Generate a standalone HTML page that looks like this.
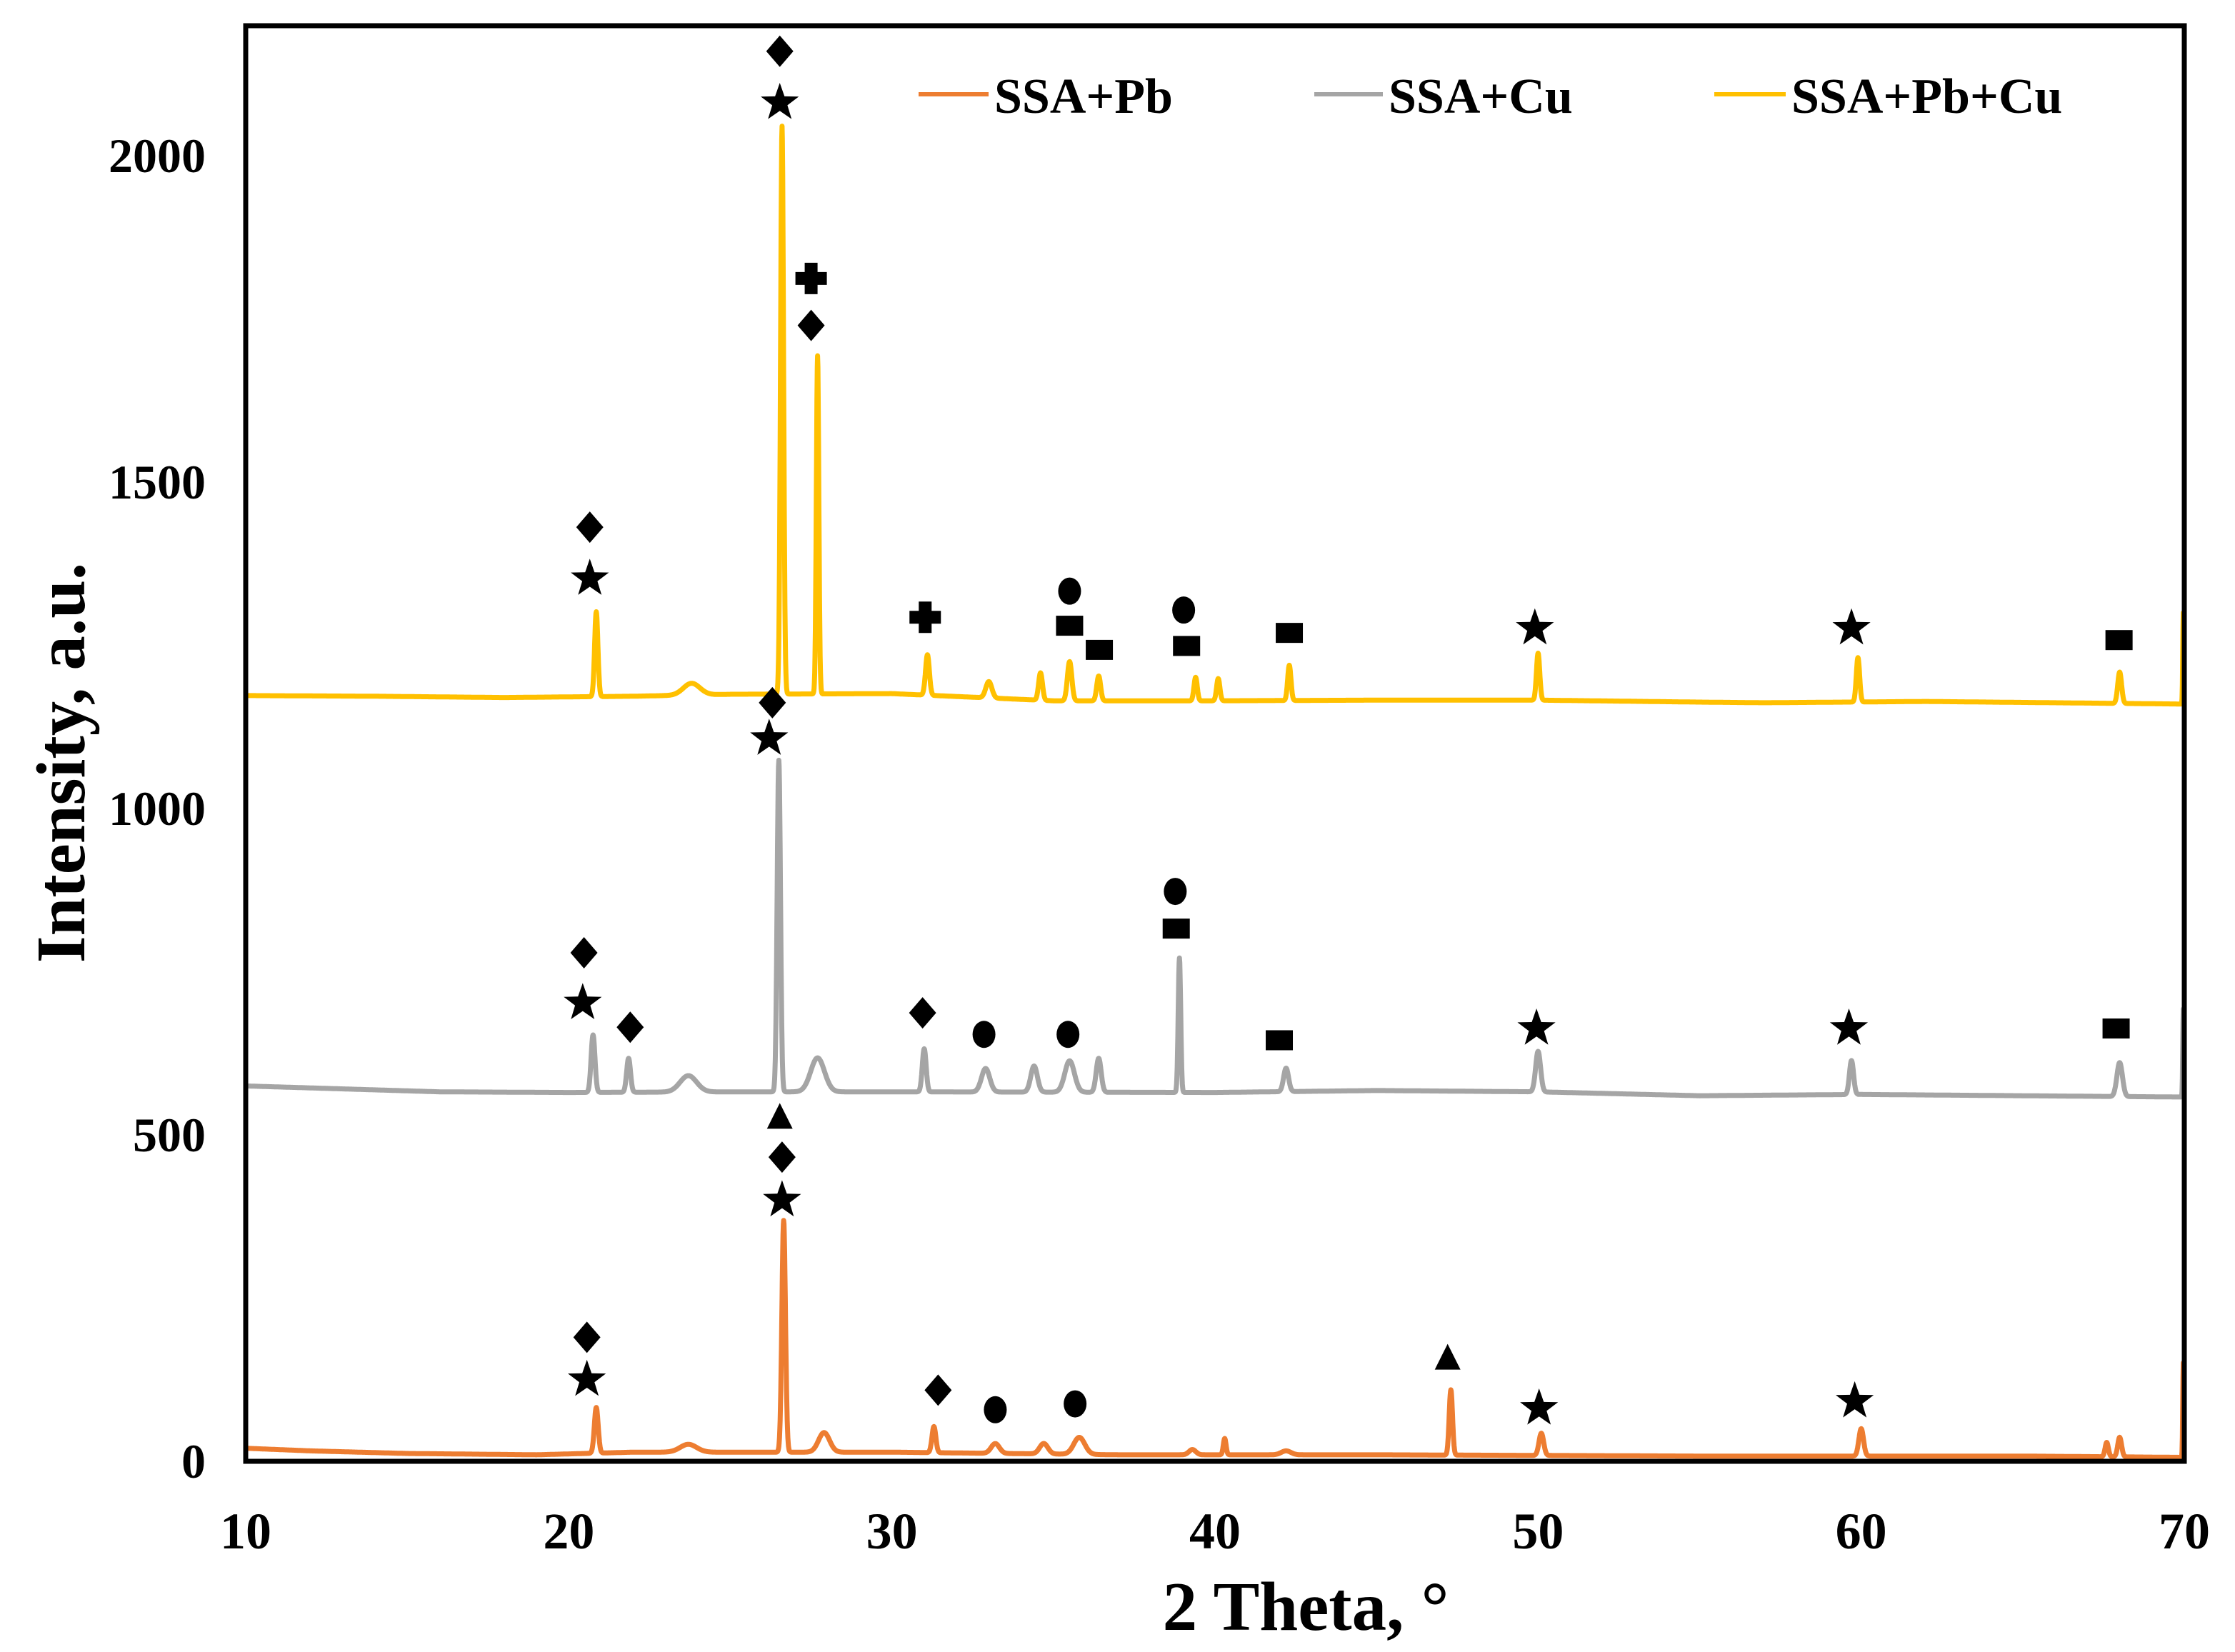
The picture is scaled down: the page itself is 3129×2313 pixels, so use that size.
<!DOCTYPE html>
<html><head><meta charset="utf-8"><style>
html,body{margin:0;padding:0;background:#fff}
svg{display:block}
text{font-family:"Liberation Serif",serif;font-weight:bold;fill:#000}
</style></head><body>
<svg id="chart" width="3129" height="2313" viewBox="0 0 3129 2313" xmlns="http://www.w3.org/2000/svg">
<rect x="0" y="0" width="3129" height="2313" fill="#fff"/>
<g id="series"></g>
<g id="markers"></g>
<rect x="344" y="36" width="2714" height="2010" fill="none" stroke="#000" stroke-width="7"/>
<g id="ticks"></g>
<text x="1828" y="2282" font-size="97" text-anchor="middle">2 Theta, °</text>
<text transform="translate(118,1068) rotate(-90)" font-size="97" text-anchor="middle">Intensity, a.u.</text>
<g>
<line x1="1286" y1="132" x2="1384" y2="132" stroke="#ED7D31" stroke-width="6"/>
<text x="1392" y="158" font-size="70">SSA+Pb</text>
<line x1="1840" y1="132" x2="1936" y2="132" stroke="#A5A5A5" stroke-width="6"/>
<text x="1944" y="158" font-size="70">SSA+Cu</text>
<line x1="2400" y1="132" x2="2500" y2="132" stroke="#FFC000" stroke-width="6"/>
<text x="2508" y="158" font-size="70">SSA+Pb+Cu</text>
</g>
</svg>
<script>
const xTicks=[10,20,30,40,50,60,70];
const yTicks=[0,500,1000,1500,2000];
// baselines: [2theta, intensity]
const pbBaseX=[10,12,15,19,22,25,30,37,45,55,65,70];
const pbBaseY=[20,16,12,10,14,14,14,10,10,8,8,6];
const pbPeakPos=[20.85,23.7,26.65,27.9,31.3,33.2,34.7,35.8,39.3,40.3,42.2,47.3,50.1,60.0,67.6,68.0,69.97];
const pbPeakH=[70,12,355,30,40,15,16,26,8,25,6,100,34,42,22,30,145];
const pbPeakW=[0.14,0.6,0.13,0.4,0.14,0.3,0.3,0.4,0.25,0.1,0.35,0.12,0.17,0.17,0.12,0.14,0.04];
const cuBaseX=[10,12,16,20,25,30,40,45,50,55,60,70];
const cuBaseY=[575,572,566,565,566,566,565,568,566,560,562,558];
const cuPeakPos=[20.75,21.85,23.7,26.5,27.7,31.0,32.9,34.4,35.5,36.4,38.9,42.2,50.0,59.7,68.0,69.97];
const cuPeakH=[88,52,25,508,52,66,36,40,48,52,206,36,62,52,52,135];
const cuPeakW=[0.14,0.14,0.6,0.12,0.5,0.14,0.3,0.24,0.35,0.18,0.09,0.18,0.18,0.15,0.2,0.04];
const mixBaseX=[10,14,18,22,25,30,35,40,45,50,55,57,62,70];
const mixBaseY=[1173,1172,1170,1172,1175,1176,1165,1165,1166,1166,1163,1162,1164,1160];
const mixPeakPos=[20.85,23.8,26.6,27.7,31.1,33.0,34.6,35.5,36.4,39.4,40.1,42.3,50.0,59.9,68.0,69.97];
const mixPeakH=[130,18,870,518,62,25,42,60,38,36,34,54,72,68,48,140];
const mixPeakW=[0.12,0.6,0.11,0.09,0.14,0.22,0.14,0.16,0.14,0.12,0.12,0.12,0.12,0.12,0.14,0.04];
// markers: 2theta, intensity, type
const markX=[26.53,26.53,27.5,27.5,20.65,20.65,31.03,35.5,35.5,36.42,39.03,39.12,42.3,49.9,59.7,67.98,
 26.3,26.2,20.47,20.43,21.9,30.95,32.85,35.45,38.77,38.8,41.99,49.95,59.62,67.89,
 26.53,26.6,26.6,20.56,20.56,31.43,33.2,35.67,47.2,50.03,59.8];
const markY=[2160,2081,1812,1740,1431,1352,1293,1333,1280,1243,1304,1249,1269,1276,1276,1258,
 1162,1107,779,702,665,687,654,654,873,816,645,663,663,663,
 527,466,400,190,125,109,79,88,158,81,92];
const markT=["diamond","star","cross","diamond","diamond","star","cross","circle","square","square","circle","square","square","star","star","square",
 "diamond","star","diamond","star","diamond","diamond","circle","circle","circle","square","square","star","star","square",
 "triangle","diamond","star","diamond","star","diamond","circle","circle","triangle","star","star"];

const X0=344,X1=3058,Y0=2046,YS=0.914;
const sx=v=>X0+(v-10)*(X1-X0)/60;
const sy=v=>Y0-v*YS;
const NS="http://www.w3.org/2000/svg";
function mk(tag,attrs,parent){const e=document.createElementNS(NS,tag);for(const k in attrs)e.setAttribute(k,attrs[k]);parent.appendChild(e);return e;}
function interp(bx,by,x){for(let i=0;i<bx.length-1;i++){if(x<=bx[i+1]){const t=(x-bx[i])/(bx[i+1]-bx[i]);return by[i]+t*(by[i+1]-by[i]);}}return by[by.length-1];}
function curve(bx,by,pp,ph,pw){let d="";for(let x=10;x<=70.0001;x+=0.01){let y=interp(bx,by,x);for(let i=0;i<pp.length;i++){const s=pw[i]/2.355;y+=ph[i]*Math.exp(-0.5*((x-pp[i])/s)**2);}d+=(d?"L":"M")+sx(x).toFixed(1)+","+sy(y).toFixed(1);}return d;}
const sg=document.getElementById("series");
const p1=mk("path",{d:curve(pbBaseX,pbBaseY,pbPeakPos,pbPeakH,pbPeakW),fill:"none",stroke:"#ED7D31","stroke-width":7,"stroke-linejoin":"round"},sg);


const p2=mk("path",{d:curve(cuBaseX,cuBaseY,cuPeakPos,cuPeakH,cuPeakW),fill:"none",stroke:"#A5A5A5","stroke-width":7,"stroke-linejoin":"round"},sg);


const p3=mk("path",{d:curve(mixBaseX,mixBaseY,mixPeakPos,mixPeakH,mixPeakW),fill:"none",stroke:"#FFC000","stroke-width":7,"stroke-linejoin":"round"},sg);


const tg=document.getElementById("ticks");
xTicks.forEach(v=>{const t=mk("text",{x:sx(v),y:2168,"font-size":72,"text-anchor":"middle"},tg);t.textContent=v;

});
yTicks.forEach(v=>{const t=mk("text",{x:288,y:sy(v)+23,"font-size":68,"text-anchor":"end"},tg);t.textContent=v;

});
const mg=document.getElementById("markers");
function star(cx,cy,r){let p=[];for(let i=0;i<10;i++){const a=-Math.PI/2+i*Math.PI/5;const rr=i%2?r*0.4:r;p.push((cx+rr*Math.cos(a)).toFixed(1)+","+(cy+rr*Math.sin(a)).toFixed(1));}return p.join(" ");}
markX.forEach((v,i)=>{const cx=sx(v),cy=sy(markY[i]),t=markT[i];let e;
if(t==="star")e=mk("polygon",{points:star(cx,cy,28),fill:"#000"},mg);
else if(t==="diamond")e=mk("polygon",{points:`${cx},${cy-22} ${cx+19},${cy} ${cx},${cy+22} ${cx-19},${cy}`,fill:"#000"},mg);
else if(t==="square")e=mk("rect",{x:cx-19,y:cy-14,width:38,height:28,fill:"#000"},mg);
else if(t==="circle")e=mk("ellipse",{cx:cx,cy:cy,rx:16,ry:19,fill:"#000"},mg);
else if(t==="triangle")e=mk("polygon",{points:`${cx},${cy-20} ${cx+18},${cy+16} ${cx-18},${cy+16}`,fill:"#000"},mg);
else e=mk("path",{d:`M${cx-9},${cy-22}h18v13h13v18h-13v13h-18v-13h-13v-18h13z`,fill:"#000"},mg);

});
</script>
</body></html>
